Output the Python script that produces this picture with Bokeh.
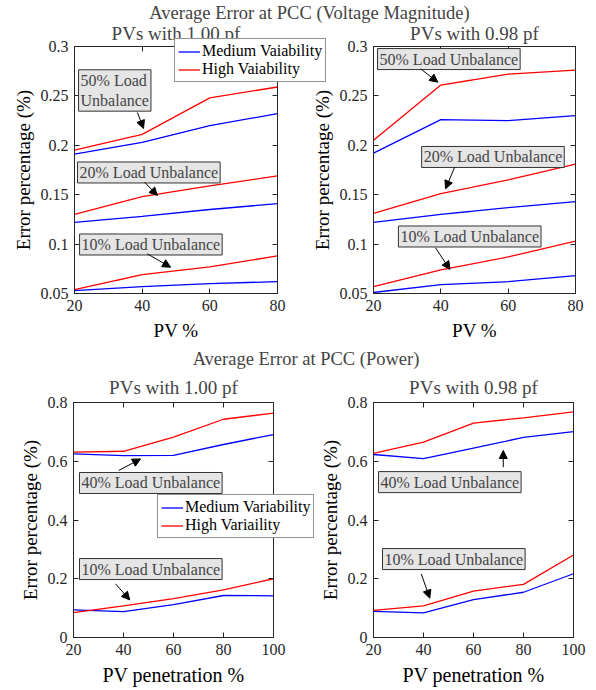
import numpy as np
from bokeh.plotting import figure
from bokeh.models import (Range1d, FixedTicker, LinearAxis, Title, Legend, LegendItem,
                          Label, Arrow, NormalHead, GridBox)
from bokeh.embed import file_html
from bokeh.resources import INLINE

# ---------------------------------------------------------------- data
pv_v = [20, 40, 60, 80]
pv_p = [20, 40, 60, 80, 100]

# Average error at PCC, voltage magnitude, PVs with 1.00 pf
v100_med_50 = [0.191, 0.203, 0.220, 0.232]
v100_high_50 = [0.195, 0.211, 0.248, 0.259]
v100_med_20 = [0.122, 0.128, 0.135, 0.141]
v100_high_20 = [0.130, 0.148, 0.159, 0.169]
v100_med_10 = [0.053, 0.057, 0.060, 0.062]
v100_high_10 = [0.054, 0.069, 0.077, 0.088]

# Average error at PCC, voltage magnitude, PVs with 0.98 pf
v098_med_50 = [0.192, 0.226, 0.225, 0.230]
v098_high_50 = [0.205, 0.261, 0.272, 0.276]
v098_med_20 = [0.122, 0.130, 0.137, 0.143]
v098_high_20 = [0.131, 0.151, 0.165, 0.181]
v098_med_10 = [0.051, 0.059, 0.062, 0.068]
v098_high_10 = [0.057, 0.074, 0.087, 0.103]

# Average error at PCC, power, PVs with 1.00 pf
p100_med_40 = [0.625, 0.619, 0.620, 0.657, 0.691]
p100_high_40 = [0.631, 0.634, 0.682, 0.743, 0.764]
p100_med_10 = [0.094, 0.088, 0.112, 0.143, 0.142]
p100_high_10 = [0.085, 0.108, 0.132, 0.162, 0.200]

# Average error at PCC, power, PVs with 0.98 pf
p098_med_40 = [0.623, 0.609, 0.645, 0.681, 0.701]
p098_high_40 = [0.627, 0.665, 0.730, 0.748, 0.768]
p098_med_10 = [0.089, 0.084, 0.129, 0.154, 0.217]
p098_high_10 = [0.092, 0.108, 0.158, 0.181, 0.281]

v_ticks = [0.05, 0.1, 0.15, 0.2, 0.25, 0.3]
v_tick_labels = ["0.05", "0.1", "0.15", "0.2", "0.25", "0.3"]
p_ticks = [0, 0.2, 0.4, 0.6, 0.8]
p_tick_labels = ["0", "0.2", "0.4", "0.6", "0.8"]

# ---------------------------------------------------------------- style
FONT = "Liberation Serif"
BLUE = "#0000FF"
RED = "#FF0000"
INK = "#262626"
BOX_FILL = "#E5E5E5"
W, H = 596, 345
LINE_W = 1.3


def make_panel(xs, x_ticks, y_range, y_ticks, y_labels, borders, xlabel, xlabel_size):
    left, right, top, bottom = borders
    p = figure(width=W, height=H, x_range=Range1d(xs[0], xs[-1]), y_range=Range1d(*y_range),
               output_backend="svg", toolbar_location=None, frame_align=False,
               min_border_left=left, min_border_right=right,
               min_border_top=top, min_border_bottom=bottom)
    p.border_fill_alpha = 0
    p.background_fill_color = "white"
    p.outline_line_color = INK
    p.outline_line_width = 1
    p.grid.visible = False

    overrides = {t: s for t, s in zip(y_ticks, y_labels)}
    for ax in p.xaxis + p.yaxis:
        ax.axis_line_color = INK
        ax.major_tick_line_color = INK
        ax.major_tick_in = 5
        ax.major_tick_out = 0
        ax.minor_tick_line_color = None
        ax.major_label_text_font = FONT
        ax.major_label_text_font_size = "16px"
        ax.major_label_text_color = INK
        ax.axis_label_text_font = FONT
        ax.axis_label_text_font_style = "normal"
        ax.axis_label_text_color = "black"
    p.xaxis.ticker = FixedTicker(ticks=x_ticks)
    p.yaxis.ticker = FixedTicker(ticks=y_ticks)
    p.yaxis.major_label_overrides = overrides
    p.xaxis.axis_label = xlabel
    p.xaxis.axis_label_text_font_size = xlabel_size
    p.xaxis.major_label_standoff = 6
    p.xaxis.axis_label_standoff = 6
    p.yaxis.axis_label = "Error percentage (%)"
    p.yaxis.axis_label_text_font_size = "19px"
    p.yaxis.major_label_standoff = 6
    p.yaxis.axis_label_standoff = 4

    # mirrored tick marks (no labels) on the top and right edges of the box
    for side, tick_list in (("right", y_ticks), ("above", x_ticks)):
        ax = LinearAxis(ticker=FixedTicker(ticks=tick_list),
                        major_label_text_font_size="0px", major_label_text_color=None,
                        major_label_standoff=0,
                        axis_line_color=INK, major_tick_line_color=INK,
                        major_tick_in=5, major_tick_out=0, minor_tick_line_color=None)
        p.add_layout(ax, side)
    return p


def add_title(p, text, standoff):
    p.add_layout(Title(text=text, text_font=FONT, text_font_size="19px",
                       text_font_style="normal", align="center", standoff=standoff), "above")


def add_note(p, x, y, text, arrow):
    p.add_layout(Label(x=x, y=y, text=text, text_font=FONT, text_font_size="16px",
                       text_align="left", text_baseline="middle",
                       background_fill_color=BOX_FILL, border_line_color="#333333",
                       border_line_width=1, padding=2))
    (xs, ys), (xe, ye) = arrow
    p.add_layout(Arrow(x_start=xs, y_start=ys, x_end=xe, y_end=ye, line_color="black",
                       line_width=1,
                       end=NormalHead(size=8, fill_color="black", line_color="black")))


def overlay_layer(heading, labels, frame_box, loc):
    """Transparent layer carrying the row heading and the legend box that
    straddles the two panels of the row."""
    left, top, right, bottom = frame_box
    q = figure(width=W, height=H, x_range=Range1d(0, 1), y_range=Range1d(0, 1),
               output_backend="svg", toolbar_location=None, frame_align=False,
               x_axis_location=None, y_axis_location=None,
               min_border_left=left, min_border_right=W - right,
               min_border_top=top, min_border_bottom=H - bottom)
    q.border_fill_alpha = 0
    q.background_fill_alpha = 0
    q.outline_line_color = None
    q.grid.visible = False
    q.title.text = heading
    q.title.text_font = FONT
    q.title.text_font_size = "18.5px"
    q.title.text_font_style = "normal"
    q.title.align = "center"
    q.title.standoff = 0
    # legend keys only: one undefined point each, nothing is drawn in the frame
    r_med = q.line(np.array([np.nan]), np.array([np.nan]), line_color=BLUE, line_width=LINE_W)
    r_high = q.line(np.array([np.nan]), np.array([np.nan]), line_color=RED, line_width=LINE_W)
    q.add_layout(Legend(items=[LegendItem(label=labels[0], renderers=[r_med]),
                               LegendItem(label=labels[1], renderers=[r_high])],
                        location=loc, orientation="vertical",
                        label_text_font=FONT, label_text_font_size="16px",
                        label_text_color="black", label_height=17, glyph_height=17,
                        glyph_width=22, label_standoff=2, spacing=0, padding=3, margin=0,
                        border_line_color=INK, border_line_width=1,
                        background_fill_color="white", background_fill_alpha=1))
    return q


def lines(p, x, pairs):
    for med, high in pairs:
        p.line(x, med, line_color=BLUE, line_width=LINE_W)
        p.line(x, high, line_color=RED, line_width=LINE_W)


# ---------------------------------------------------------------- voltage, 1.00 pf
p_tl = make_panel(pv_v, pv_v, (0.05, 0.3), v_ticks, v_tick_labels, (74, 319, 46, 52), "PV %", "19px")
lines(p_tl, pv_v, [(v100_med_50, v100_high_50), (v100_med_20, v100_high_20),
                   (v100_med_10, v100_high_10)])
add_title(p_tl, "PVs with 1.00 pf", 6)
add_note(p_tl, 21.2, 0.2555, "50% Load\nUnbalance", ((38.6, 0.2332), (40.4, 0.2170)))
add_note(p_tl, 20.9, 0.1725, "20% Load Unbalance", ((40.7, 0.1627), (44.5, 0.1492)))
add_note(p_tl, 21.5, 0.0996, "10% Load Unbalance", ((41.5, 0.0902), (48.4, 0.0766)))

# ---------------------------------------------------------------- voltage, 0.98 pf
p_tr = make_panel(pv_v, pv_v, (0.05, 0.3), v_ticks, v_tick_labels, (373, 21, 46, 52), "PV %", "19px")
lines(p_tr, pv_v, [(v098_med_50, v098_high_50), (v098_med_20, v098_high_20),
                   (v098_med_10, v098_high_10)])
add_title(p_tr, "PVs with 0.98 pf", 6)
add_note(p_tr, 21.2, 0.2873, "50% Load Unbalance", ((34.0, 0.2774), (39.1, 0.2639)))
add_note(p_tr, 34.3, 0.1882, "20% Load Unbalance", ((44.1, 0.1778), (41.4, 0.1560)))
add_note(p_tr, 27.4, 0.1077, "10% Load Unbalance", ((38.4, 0.0963), (42.7, 0.0743)))

top_layer = overlay_layer("Average Error at PCC (Voltage Magnitude)",
                          ("Medium Vaiability", "High Vaiability"), (150, 22, 468, 100), (24, 18))

# ---------------------------------------------------------------- power, 1.00 pf
p_bl = make_panel(pv_p, pv_p, (0, 0.8), p_ticks, p_tick_labels, (73, 323, 57, 53),
                  "PV penetration %", "20px")
lines(p_bl, pv_p, [(p100_med_40, p100_high_40), (p100_med_10, p100_high_10)])
add_title(p_bl, "PVs with 1.00 pf", 10)
add_note(p_bl, 22.4, 0.526, "40% Load Unbalance", ((38.1, 0.5685), (46.8, 0.608)))
add_note(p_bl, 22.4, 0.233, "10% Load Unbalance", ((36.8, 0.1828), (42.5, 0.128)))

# ---------------------------------------------------------------- power, 0.98 pf
p_br = make_panel(pv_p, pv_p, (0, 0.8), p_ticks, p_tick_labels, (373, 23, 57, 53),
                  "PV penetration %", "20px")
lines(p_br, pv_p, [(p098_med_40, p098_high_40), (p098_med_10, p098_high_10)])
add_title(p_br, "PVs with 0.98 pf", 10)
add_note(p_br, 22.0, 0.529, "40% Load Unbalance", ((71.9, 0.580), (71.9, 0.6366)))
add_note(p_br, 23.6, 0.267, "10% Load Unbalance", ((39.1, 0.2168), (42.5, 0.134)))

bottom_layer = overlay_layer("Average Error at PCC (Power)",
                             ("Medium Variability", "High Variaility"), (140, 23, 471, 210), (17, 17))

# the layers of a row share one grid cell; every layer is transparent outside its
# frame, so the legend box may run across the split between the two panels
page = GridBox(children=[(p_tl, 0, 0), (p_tr, 0, 0), (top_layer, 0, 0),
                         (p_bl, 1, 0), (p_br, 1, 0), (bottom_layer, 1, 0)],
               width=W, height=2 * H)
open("out.html", "w").write(file_html(page, INLINE))
